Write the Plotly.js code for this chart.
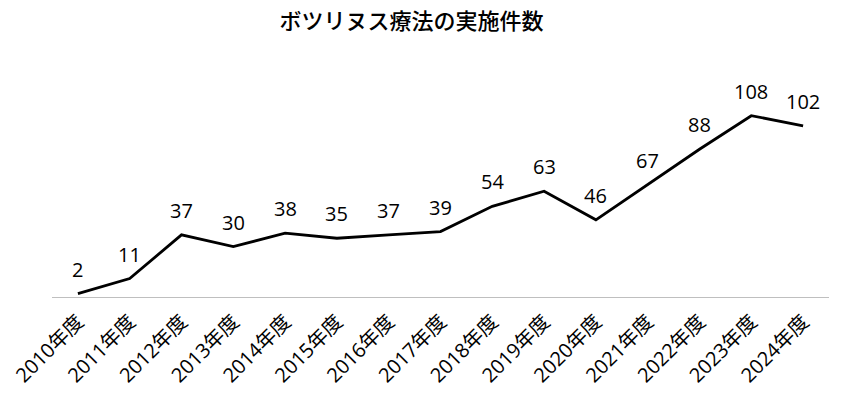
<!DOCTYPE html>
<html><head><meta charset="utf-8">
<script src="https://cdn.plot.ly/plotly-3.0.1.min.js"></script>
<style>html,body{margin:0;padding:0;background:#fff}#chart{width:850px;height:395px}</style>
</head><body><div id="chart"></div>
<script>
const categories = ["2010年度","2011年度","2012年度","2013年度","2014年度","2015年度","2016年度","2017年度","2018年度","2019年度","2020年度","2021年度","2022年度","2023年度","2024年度"];
const counts = [2, 11, 37, 30, 38, 35, 37, 39, 54, 63, 46, 67, 88, 108, 102];
const titleText = "ボツリヌス療法の実施件数";

const fontFam = "'Open Sans', 'Noto Sans CJK JP', sans-serif";
const annotations = categories.map((c, i) => ({
  x: c, y: counts[i], xref: 'x', yref: 'y',
  text: String(counts[i]), showarrow: false,
  yanchor: 'bottom', yshift: 9,
  font: {family: fontFam, size: 20, color: '#000'}
}));

Plotly.newPlot('chart', [{
  x: categories, y: counts, type: 'scatter', mode: 'lines',
  line: {color: '#000', width: 2.8}, hoverinfo: 'skip'
}], {
  width: 850, height: 395,
  margin: {l: 52, r: 21, t: 62, b: 98},
  paper_bgcolor: '#fff', plot_bgcolor: '#fff',
  title: {text: titleText, x: 0.484, xanchor: 'center', y: 0.945, yanchor: 'middle',
          font: {family: "'Noto Sans CJK JP', sans-serif", size: 22, color: '#000', weight: 500}},
  xaxis: {type: 'category', range: [-0.5, 14.5], showline: true, linecolor: '#bfbfbf', linewidth: 1,
          showgrid: false, zeroline: false, ticks: 'outside', ticklen: 4, tickcolor: 'rgba(0,0,0,0)', tickangle: -45,
          tickfont: {family: fontFam, size: 20, color: '#000'}},
  yaxis: {range: [0, 140], visible: false, showgrid: false, zeroline: false},
  annotations: annotations,
  showlegend: false
}, {displayModeBar: false, staticPlot: true});
</script></body></html>
